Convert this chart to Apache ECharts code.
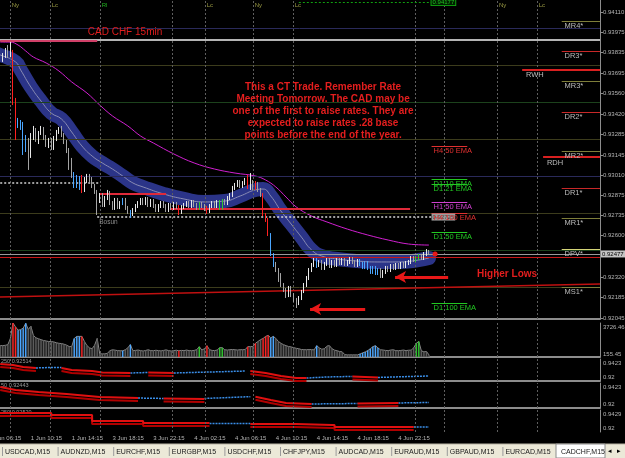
<!DOCTYPE html>
<html>
<head>
<meta charset="utf-8">
<script src="https://cdn.jsdelivr.net/npm/echarts@6/dist/echarts.min.js"></script>
<style>
html, body { margin: 0; padding: 0; background: #000; }
#main { width: 625px; height: 458px; }
</style>
</head>
<body>
<div id="main"></div>
<script>
var FONT = 'Liberation Sans';

// bar index 0 = 1 Jun 06:15, one bar per 15 minutes, a label every 16 bars
var timeLabels = ['1 Jun 06:15', '1 Jun 10:15', '1 Jun 14:15', '3 Jun 18:15', '3 Jun 22:15', '4 Jun 02:15',
    '4 Jun 06:15', '4 Jun 10:15', '4 Jun 14:15', '4 Jun 18:15', '4 Jun 22:15'];
var priceTicks = [0.94110, 0.93975, 0.93835, 0.93695, 0.93560, 0.93420, 0.93285, 0.93145, 0.93010,
    0.92875, 0.92735, 0.92600, 0.92320, 0.92185, 0.92045];
var lastPrice = 0.92477;

// [open, close, low, high]
var bars = [
    [0.93820,0.93806,0.93786,0.93840],[0.93806,0.93827,0.93793,0.93854],[0.93827,0.93800,0.93773,0.93840],
    [0.93800,0.93820,0.93786,0.93833],[0.93820,0.93786,0.93766,0.93840],[0.93786,0.93813,0.93773,0.93833],
    [0.93813,0.93840,0.93800,0.93867],[0.93840,0.93820,0.93800,0.93887],[0.93820,0.93854,0.93806,0.93908],
    [0.93820,0.93516,0.93482,0.93854],[0.93516,0.93381,0.93246,0.93530],[0.93381,0.93341,0.93327,0.93395],
    [0.93341,0.93368,0.93314,0.93381],[0.93347,0.93192,0.93145,0.93368],[0.93192,0.93246,0.93165,0.93280],
    [0.93246,0.93098,0.93044,0.93260],[0.93145,0.93273,0.93125,0.93293],[0.93273,0.93314,0.93246,0.93341],
    [0.93314,0.93246,0.93233,0.93327],[0.93246,0.93293,0.93219,0.93307],[0.93293,0.93320,0.93280,0.93341],
    [0.93320,0.93266,0.93246,0.93334],[0.93266,0.93219,0.93199,0.93280],[0.93219,0.93246,0.93192,0.93260],
    [0.93246,0.93199,0.93179,0.93260],[0.93199,0.93260,0.93179,0.93273],[0.93260,0.93300,0.93239,0.93314],
    [0.93300,0.93327,0.93287,0.93334],[0.93327,0.93280,0.93266,0.93341],[0.93280,0.93233,0.93219,0.93293],
    [0.93233,0.93179,0.93158,0.93246],[0.93179,0.93098,0.93044,0.93192],[0.93098,0.93010,0.92990,0.93125],
    [0.93010,0.92942,0.92922,0.93030],[0.92942,0.92990,0.92922,0.93010],[0.92990,0.92922,0.92909,0.93003],
    [0.92996,0.92895,0.92888,0.93010],[0.92909,0.92976,0.92895,0.92996],[0.92976,0.93003,0.92956,0.93017],
    [0.93003,0.92976,0.92963,0.93017],[0.92976,0.92936,0.92922,0.92996],[0.92936,0.92895,0.92882,0.92949],
    [0.92895,0.92841,0.92740,0.92909],[0.92841,0.92875,0.92821,0.92888],[0.92875,0.92807,0.92794,0.92888],
    [0.92807,0.92855,0.92794,0.92868],[0.92855,0.92888,0.92841,0.92909],[0.92888,0.92821,0.92807,0.92902],
    [0.92821,0.92787,0.92774,0.92834],[0.92787,0.92841,0.92774,0.92855],[0.92841,0.92794,0.92780,0.92855],
    [0.92794,0.92821,0.92780,0.92834],[0.92821,0.92841,0.92807,0.92855],[0.92841,0.92787,0.92774,0.92855],
    [0.92787,0.92760,0.92747,0.92801],[0.92760,0.92740,0.92720,0.92774],[0.92740,0.92774,0.92733,0.92787],
    [0.92774,0.92801,0.92760,0.92814],[0.92801,0.92821,0.92787,0.92834],[0.92821,0.92841,0.92807,0.92855],
    [0.92841,0.92821,0.92807,0.92855],[0.92821,0.92848,0.92807,0.92861],[0.92848,0.92807,0.92794,0.92861],
    [0.92807,0.92834,0.92794,0.92848],[0.92834,0.92801,0.92787,0.92848],[0.92801,0.92774,0.92760,0.92814],
    [0.92774,0.92801,0.92760,0.92814],[0.92801,0.92821,0.92787,0.92834],[0.92821,0.92801,0.92787,0.92834],
    [0.92801,0.92774,0.92760,0.92814],[0.92774,0.92807,0.92760,0.92821],[0.92807,0.92787,0.92774,0.92821],
    [0.92787,0.92814,0.92774,0.92828],[0.92814,0.92794,0.92780,0.92828],[0.92794,0.92753,0.92740,0.92807],
    [0.92753,0.92794,0.92747,0.92807],[0.92794,0.92807,0.92780,0.92821],[0.92807,0.92821,0.92794,0.92834],
    [0.92821,0.92801,0.92787,0.92834],[0.92801,0.92828,0.92787,0.92841],[0.92828,0.92807,0.92794,0.92841],
    [0.92807,0.92787,0.92774,0.92821],[0.92787,0.92814,0.92774,0.92828],[0.92814,0.92801,0.92787,0.92828],
    [0.92801,0.92780,0.92767,0.92814],[0.92780,0.92760,0.92747,0.92801],[0.92760,0.92801,0.92753,0.92814],
    [0.92801,0.92821,0.92787,0.92834],[0.92821,0.92801,0.92787,0.92834],[0.92801,0.92828,0.92787,0.92841],
    [0.92828,0.92787,0.92774,0.92841],[0.92787,0.92834,0.92774,0.92848],[0.92834,0.92821,0.92807,0.92848],
    [0.92821,0.92855,0.92807,0.92868],[0.92855,0.92875,0.92841,0.92888],[0.92875,0.92922,0.92861,0.92936],
    [0.92922,0.92942,0.92909,0.92956],[0.92942,0.92963,0.92929,0.92976],[0.92963,0.92936,0.92922,0.92976],
    [0.92936,0.92956,0.92922,0.92969],[0.92956,0.92976,0.92942,0.92990],[0.92976,0.92922,0.92915,0.93010],
    [0.92922,0.92963,0.92909,0.93023],[0.92963,0.92922,0.92909,0.92976],[0.92922,0.92949,0.92909,0.92969],
    [0.92949,0.92909,0.92895,0.92963],[0.92909,0.92875,0.92861,0.92922],[0.92875,0.92740,0.92733,0.92888],
    [0.92740,0.92706,0.92693,0.92753],[0.92706,0.92605,0.92598,0.92720],[0.92605,0.92470,0.92463,0.92618],
    [0.92470,0.92402,0.92389,0.92483],[0.92402,0.92369,0.92355,0.92423],[0.92369,0.92335,0.92288,0.92382],
    [0.92335,0.92267,0.92254,0.92348],[0.92267,0.92234,0.92220,0.92281],[0.92234,0.92200,0.92180,0.92247],
    [0.92200,0.92247,0.92186,0.92261],[0.92247,0.92200,0.92186,0.92261],[0.92200,0.92166,0.92153,0.92213],
    [0.92166,0.92146,0.92112,0.92180],[0.92146,0.92180,0.92132,0.92193],[0.92180,0.92220,0.92166,0.92234],
    [0.92220,0.92267,0.92213,0.92281],[0.92267,0.92315,0.92254,0.92328],[0.92315,0.92369,0.92301,0.92382],
    [0.92369,0.92402,0.92355,0.92416],[0.92402,0.92436,0.92389,0.92450],[0.92436,0.92402,0.92382,0.92450],
    [0.92402,0.92423,0.92389,0.92436],[0.92423,0.92382,0.92369,0.92436],[0.92382,0.92409,0.92369,0.92423],
    [0.92409,0.92436,0.92396,0.92450],[0.92436,0.92396,0.92382,0.92450],[0.92396,0.92423,0.92382,0.92436],
    [0.92423,0.92402,0.92389,0.92436],[0.92402,0.92436,0.92389,0.92450],[0.92436,0.92416,0.92402,0.92450],
    [0.92416,0.92436,0.92402,0.92450],[0.92436,0.92409,0.92396,0.92450],[0.92409,0.92423,0.92396,0.92436],
    [0.92423,0.92443,0.92409,0.92456],[0.92443,0.92423,0.92409,0.92456],[0.92423,0.92402,0.92389,0.92436],
    [0.92402,0.92429,0.92389,0.92443],[0.92429,0.92409,0.92396,0.92443],[0.92409,0.92389,0.92375,0.92423],
    [0.92389,0.92416,0.92375,0.92429],[0.92416,0.92382,0.92369,0.92429],[0.92382,0.92355,0.92342,0.92396],
    [0.92355,0.92382,0.92342,0.92396],[0.92382,0.92348,0.92335,0.92396],[0.92348,0.92369,0.92335,0.92382],
    [0.92369,0.92328,0.92315,0.92382],[0.92328,0.92355,0.92315,0.92369],[0.92355,0.92382,0.92342,0.92396],
    [0.92382,0.92369,0.92355,0.92396],[0.92369,0.92396,0.92355,0.92409],[0.92396,0.92382,0.92369,0.92409],
    [0.92382,0.92402,0.92369,0.92416],[0.92402,0.92389,0.92375,0.92416],[0.92389,0.92409,0.92375,0.92423],
    [0.92409,0.92396,0.92382,0.92423],[0.92396,0.92416,0.92382,0.92429],[0.92416,0.92423,0.92402,0.92436],
    [0.92423,0.92450,0.92409,0.92463],[0.92450,0.92436,0.92423,0.92463],[0.92436,0.92450,0.92423,0.92463],
    [0.92450,0.92463,0.92436,0.92477],[0.92463,0.92450,0.92436,0.92477],[0.92450,0.92477,0.92436,0.92490],
    [0.92477,0.92490,0.92463,0.92510],[0.92490,0.92477,0.92470,0.92504]
];

// bars the colour-coding indicator marks
var redBars = [9, 10, 36, 74, 85, 101, 104, 107, 108, 109];
var blueBars = [11, 12, 13, 14, 33, 34, 35, 52, 55, 110, 111, 128, 145, 146, 147, 148, 149, 150, 151, 152];
var greenBars = [82, 90, 91, 167, 168];

var volume = [1200,1180,1220,1230,1240,1250,1280,1350,2030,3726,3300,2940,3000,3160,3700,3000,3390,2370,2100,2000,
    1900,1810,1750,1700,1690,1650,1560,1500,1470,1400,1300,1150,1130,2030,2260,2260,2260,1700,1240,1000,
    900,1300,2030,340,340,340,400,700,790,750,700,680,680,790,1000,1360,680,720,760,700,
    650,720,790,700,680,740,700,660,720,780,700,650,700,740,680,720,700,760,700,680,
    720,800,1130,760,900,1240,800,720,700,760,1020,1020,790,760,800,820,790,760,800,790,
    820,1130,1130,1150,1500,1700,1900,2030,2260,2370,2100,2260,2030,1700,1500,1350,1240,1150,1100,1020,
    950,900,820,800,790,820,800,780,1240,1000,850,900,1200,1240,900,750,680,600,560,260,
    230,230,230,230,230,340,450,560,700,900,1130,1240,1000,790,760,720,700,760,790,700,
    680,720,760,700,740,750,1000,1500,1700,680,560,600,230];

// moving-average channel centre and the slower EMA, [bar, price]
var bandMid = [[0,0.93840],[4,0.93820],[10,0.93773],[12,0.93719],[16,0.93604],[20,0.93509],[24,0.93428],
    [28,0.93388],[32,0.93300],[36,0.93206],[40,0.93138],[44,0.93091],[48,0.93050],[52,0.93003],[56,0.92956],
    [60,0.92929],[68,0.92882],[76,0.92848],[84,0.92828],[92,0.92834],[98,0.92868],[104,0.92909],[107,0.92915],
    [110,0.92868],[114,0.92767],[118,0.92679],[122,0.92591],[126,0.92504],[130,0.92463],[136,0.92443],
    [144,0.92429],[152,0.92423],[160,0.92423],[168,0.92436],[172,0.92450]];
var slowEma = [[4,0.93907],[8,0.93907],[11,0.93887],[14,0.93847],[17,0.93806],[22,0.93766],[27,0.93712],
    [32,0.93638],[38,0.93563],[43,0.93482],[48,0.93408],[54,0.93341],[59,0.93273],[64,0.93226],[72,0.93152],
    [80,0.93091],[88,0.93050],[96,0.93023],[104,0.93003],[108,0.92976],[112,0.92929],[116,0.92861],
    [120,0.92794],[126,0.92733],[132,0.92693],[140,0.92645],[148,0.92605],[156,0.92571],[164,0.92544],
    [172,0.92537]];

var roundLevels = [0.9400, 0.9375, 0.9350, 0.9325, 0.9300, 0.9275, 0.9250, 0.9225];
var sessions = [[7.8,'Ny'],[23.5,'Lc'],[43.1,'Rl'],[71.3,''],[84.2,'Lc'],[103,'Ny'],[118.7,'Lc'],
    [166.5,''],[177.9,''],[198.7,'Ny'],[214.3,'Lc']];
var pivots = [['MR4*',0.94049],['DR3*',0.93847],['MR3*',0.93644],['DR2*',0.93435],['MR2*',0.93172],
    ['DR1*',0.92922],['MR1*',0.92720],['DPV*',0.92510],['MS1*',0.92254]];
var rangeHighs = [['RWH',0.93719,208.5],['RDH',0.93131,216.7]];
var emaLevels = [['H4 50 EMA',0.93206],['D1 10 EMA',0.92983],['D1 21 EMA',0.92949],['H1 50 EMA',0.92828],
    ['H4 100 EMA',0.92753],['D1 50 EMA',0.92625],['D1 100 EMA',0.92146]];

// lower indicator windows: trend segments, [bar, value]
var ind1 = [
    ['down', [[4,0.9372],[9,0.9362],[13,0.9342],[18,0.9332]]],
    ['up', [[18,0.9332],[23,0.9337],[28,0.9337]]],
    ['down', [[28,0.9332],[32,0.9312],[40,0.9301],[44,0.9286],[55,0.9281]]],
    ['up', [[55,0.9281],[62,0.9286]]],
    ['down', [[62,0.9286],[72,0.9281]]],
    ['up', [[72,0.9281],[86,0.9291],[100,0.9301]]],
    ['down', [[102,0.9301],[108,0.9281],[114,0.9251],[120,0.9230],[124,0.9230]]],
    ['up', [[124,0.9230],[132,0.9241],[142,0.9246]]],
    ['down', [[142,0.9246],[152,0.9236]]],
    ['up', [[152,0.9236],[172,0.9251]]]
];
var ind2 = [
    ['down', [[4,0.9387],[10,0.9360],[19,0.9343],[30,0.9325],[43,0.9298],[58,0.9289]]],
    ['up', [[58,0.9289],[68,0.9285]]],
    ['down', [[68,0.9285],[84,0.9280]]],
    ['up', [[84,0.9285],[102,0.9301]]],
    ['down', [[104,0.9300],[110,0.9271],[116,0.9245],[126,0.9236]]],
    ['up', [[126,0.9236],[144,0.9240]]],
    ['down', [[144,0.9240],[160,0.9244]]],
    ['up', [[160,0.9245],[172,0.9249]]]
];
var ind3 = [
    ['down', [[0,0.9398],[23,0.9398],[24,0.9377],[39,0.9377],[40,0.9315],[59,0.9315],[60,0.9294],[86,0.9294]]],
    ['up', [[86,0.9289],[102,0.9289]]],
    ['down', [[102,0.9283],[119,0.9283],[120,0.9273],[134,0.9273],[135,0.9252],[166,0.9252]]],
    ['up', [[166,0.9252],[172,0.9252]]]
];
var tabs = ['USDCAD,M15','AUDNZD,M15','EURCHF,M15','EURGBP,M15','USDCHF,M15','CHFJPY,M15',
    'AUDCAD,M15','EURAUD,M15','GBPAUD,M15','EURCAD,M15','CADCHF,M15'];

var ranges = [[0.92038, 0.94191], [0, 3726.46], [0.92, 0.9423], [0.92, 0.9423], [0.92, 0.9429]];

function barColor(i) {
    if (redBars.indexOf(i) >= 0) return '#ff2020';
    if (blueBars.indexOf(i) >= 0) return '#4aa6ff';
    if (greenBars.indexOf(i) >= 0) return '#30c830';
    return null;
}

function seg(i0, i1, p, color, width, type) {
    return [{coord: [i0, p], lineStyle: {color: color, width: width || 1, type: type || 'solid'}}, {coord: [i1, p]}];
}

function txt(i, p, text, color, size, extra) {
    var label = {show: true, formatter: text, color: color, fontSize: size, fontFamily: FONT,
        position: [0, 1], align: 'left', verticalAlign: 'top'};
    for (var k in extra) label[k] = extra[k];
    return {coord: [i, p], symbol: 'rect', symbolSize: 1, itemStyle: {color: 'rgba(0,0,0,0)'}, label: label};
}

function sessionLines(k) {
    var r = ranges[k];
    return {silent: true, symbol: ['none', 'none'], label: {show: false},
        lineStyle: {color: '#5e5e5e', type: [2, 2], width: 1},
        data: sessions.map(function (s) { return [{coord: [s[0], r[0]]}, {coord: [s[0], r[1]]}]; })};
}

var chart = echarts.init(document.getElementById('main'));

var roundColor = function (p) {
    var r = Math.round(p * 10000) % 100;
    if (r === 0) return '#2a2a5a';
    if (r === 50) return '#1c421c';
    return '#3c3c1c';
};

var levelLines = roundLevels.map(function (p) { return seg(0, 239, p, roundColor(p), 1); });
levelLines.push(seg(0, 239, 0.93921, '#b4b4b4', 2));

var overlay = [
    seg(4, 42, 0.93914, '#d04068', 2),
    seg(43, 69, 0.92882, '#e02a3a', 2),
    seg(70.5, 164.6, 0.92780, '#e02a3a', 2),
    seg(4, 43, 0.92956, '#d0d0d0', 1.5, [2, 2]),
    [{coord: [0, 0.92185], lineStyle: {color: '#c01010', width: 1.5, type: 'solid'}}, {coord: [239, 0.92274]}],
    seg(0, 239, 0.92456, '#c81818', 1),
    [{coord: [0, lastPrice], lineStyle: {color: '#9a9a9a', width: 1, type: 'solid'},
        label: {show: true, position: 'end', distance: 1, formatter: '0.92477', backgroundColor: '#c4c4c4',
            color: '#000', fontSize: 6, fontFamily: FONT, padding: [1, 2, 0, 1]}}, {coord: [239, lastPrice]}]
];
var dotted = [
    [{coord: [42, 0.92726], lineStyle: {color: '#d8d8d8', width: 1.5, type: [2, 2]},
        label: {show: true, position: 'end', distance: 0, formatter: '0.92725', backgroundColor: '#9c9c9c',
            color: '#444', fontSize: 6, fontFamily: FONT, padding: [1, 1, 0, 1]}}, {coord: [173, 0.92726]}],
    [{coord: [121, 0.94177], lineStyle: {color: '#10a010', width: 1, type: [2, 2]},
        label: {show: true, position: 'end', distance: 0, formatter: '0.94177', backgroundColor: '#002000',
            borderColor: '#10a010', borderWidth: 1, color: '#20c020', fontSize: 6, fontFamily: FONT,
            padding: [0, 1, 0, 1]}}, {coord: [173, 0.94177]}]
];
pivots.forEach(function (p) {
    var c = p[0].indexOf('DR') === 0 ? '#c82828' : (p[0] === 'DPV*' ? '#d4d478' : '#7e7e3a');
    overlay.push(seg(224, 239, p[1], c, 1));
});
rangeHighs.forEach(function (r) { overlay.push(seg(r[2], 239, r[1], '#d82020', 2)); });
var emaColor = function (name) {
    if (name.indexOf('D1') === 0) return '#22c822';
    if (name.indexOf('H1') === 0) return '#d040d0';
    return '#e03030';
};
emaLevels.forEach(function (e) { overlay.push(seg(173, 187, e[1], emaColor(e[0]), 1)); });

var texts = [
    txt(52.9, 0.93975, 'CAD CHF 15min', '#e41e1e', 10, {position: 'inside', align: 'center', verticalAlign: 'middle'}),
    txt(130.5, 0.93442, 'This a CT Trade. Remember Rate\nMeeting Tomorrow. The CAD may be\none of the first to raise rates. They are\nexpected to raise rates .28 base\npoints before the end of the year.',
        '#e41e1e', 10, {position: 'inside', align: 'center', verticalAlign: 'middle', fontWeight: 'bold', lineHeight: 12}),
    txt(202.6, 0.92342, 'Higher Lows', '#e41e1e', 10, {position: 'inside', align: 'center', verticalAlign: 'middle', fontWeight: 'bold'}),
    txt(43, 0.92726, 'Bosun', '#8c8c8c', 6.5, {position: [0, 2]})
];
sessions.forEach(function (s) {
    if (s[1]) texts.push(txt(s[0] + 0.5, 0.94150, s[1], s[1] === 'Rl' ? '#20b020' : '#9c9c44', 6,
        {verticalAlign: 'middle', position: [1, 0]}));
});
pivots.forEach(function (p) { texts.push(txt(225.3, p[1], p[0], '#bcbcbc', 7.5, {position: [0, 1]})); });
rangeHighs.forEach(function (r) { texts.push(txt(r[2] + 1.7, r[1], r[0], '#bcbcbc', 7.5, {position: [0, 2]})); });
emaLevels.forEach(function (e) { texts.push(txt(174, e[1], e[0], emaColor(e[0]), 7.5, {position: [0, 1]})); });

var series = [
    {type: 'line', xAxisIndex: 0, yAxisIndex: 0, data: [], z: 1,
        markLine: {silent: true, symbol: ['none', 'none'], label: {show: false}, data: levelLines}},
    {type: 'line', xAxisIndex: 0, yAxisIndex: 0, data: [], z: 1, markLine: sessionLines(0)},
    {type: 'line', xAxisIndex: 0, yAxisIndex: 0, data: bandMid, smooth: 0.5, symbol: 'none', z: 2,
        lineStyle: {color: '#2b3488', width: 14, cap: 'round', join: 'round'}},
    {type: 'line', xAxisIndex: 0, yAxisIndex: 0, data: bandMid, smooth: 0.5, symbol: 'none', z: 3,
        lineStyle: {color: '#8a8cb4', width: 1}},
    {type: 'line', xAxisIndex: 0, yAxisIndex: 0, data: slowEma, smooth: 0.4, symbol: 'none', z: 3,
        lineStyle: {color: '#d020d0', width: 1}},
    {type: 'candlestick', xAxisIndex: 0, yAxisIndex: 0, z: 5, barWidth: 1.2,
        encode: {x: 0, y: [1, 2, 3, 4]},
        itemStyle: {color: '#e8e8e8', color0: '#a4a4a4', borderColor: '#e8e8e8', borderColor0: '#a4a4a4', borderWidth: 1},
        data: bars.map(function (b, i) {
            var c = barColor(i);
            var item = {value: [i, b[0], b[1], b[2], b[3]]};
            if (c) item.itemStyle = {color: c, color0: c, borderColor: c, borderColor0: c};
            return item;
        })},
    {type: 'line', xAxisIndex: 0, yAxisIndex: 0, data: [], z: 6,
        markLine: {silent: true, symbol: ['none', 'none'], label: {show: false}, data: overlay.concat(dotted)}},
    {type: 'line', xAxisIndex: 0, yAxisIndex: 0, data: [], z: 7,
        markLine: {silent: true, symbol: ['none', 'arrow'], symbolSize: [9, 11], label: {show: false},
            lineStyle: {color: '#e81818', width: 3, type: 'solid'},
            data: [[{coord: [179.5, 0.92321]}, {coord: [158.7, 0.92321]}],
                [{coord: [147, 0.92105]}, {coord: [125.4, 0.92105]}]]},
        markPoint: {silent: true, data: [{coord: [174.4, lastPrice], symbol: 'circle', symbolSize: 5,
            itemStyle: {color: '#e81818'}, label: {show: false}}]}},
    {type: 'line', xAxisIndex: 0, yAxisIndex: 0, data: [], z: 8, markPoint: {silent: true, data: texts}},

    {type: 'line', xAxisIndex: 1, yAxisIndex: 1, data: volume.map(function (v, i) { return [i, v]; }),
        symbol: 'none', z: 3, lineStyle: {color: '#8a8a8a', width: 1}, areaStyle: {color: '#262626'},
        markLine: sessionLines(1)},
    {type: 'bar', xAxisIndex: 1, yAxisIndex: 1, barWidth: 1.4, z: 4,
        data: volume.map(function (v, i) {
            return {value: [i, v], itemStyle: {color: barColor(i) || '#5c5c5c'}};
        })}
];

[ind1, ind2, ind3].forEach(function (ind, k) {
    var ax = k + 2;
    series.push({type: 'line', xAxisIndex: ax, yAxisIndex: ax, data: [], markLine: sessionLines(ax)});
    ind.forEach(function (s) {
        var down = s[0] === 'down';
        series.push({type: 'line', xAxisIndex: ax, yAxisIndex: ax, data: s[1], symbol: 'none',
            step: k === 2 ? 'end' : false, z: down ? 4 : 3,
            lineStyle: down ? {color: '#e01010', width: 2, shadowColor: '#b00000', shadowOffsetY: 3, shadowBlur: 0}
                : {color: '#3a8ee8', width: 1.5, type: [2, 1]}});
    });
});

var grids = [
    {left: -10, right: 25, top: 0, height: 319, outerBoundsMode: 'none'},
    {left: -10, right: 25, top: 323, height: 34, outerBoundsMode: 'none'},
    {left: -10, right: 25, top: 359, height: 22, outerBoundsMode: 'none'},
    {left: -10, right: 25, top: 383, height: 25, outerBoundsMode: 'none'},
    {left: -10, right: 25, top: 410, height: 22, outerBoundsMode: 'none'}
];
var xAxes = grids.map(function (g, k) {
    return {type: 'value', gridIndex: k, min: 0, max: 239, interval: 16,
        axisLine: {show: k < 4, onZero: false, lineStyle: {color: '#8c8c8c', width: 2}},
        axisTick: {show: false}, splitLine: {show: false},
        axisLabel: {show: k === 4, align: 'left', margin: 3, color: '#b4b4b4', fontSize: 6, fontFamily: FONT,
            formatter: function (v) { return timeLabels[v / 16] || ''; }}};
});

function subAxis(k, vals, fmt, padTop, padBot) {
    var min = ranges[k][0], max = ranges[k][1];
    return {type: 'value', gridIndex: k, position: 'right', min: min, max: max,
        axisLine: {show: true, onZero: false, lineStyle: {color: '#8c8c8c'}},
        axisTick: {show: false}, splitLine: {show: false},
        axisLabel: {customValues: vals, margin: 3,
            formatter: function (v) { return (v === max ? '{t|' : '{b|') + fmt(v) + '}'; },
            rich: {t: {fontSize: 6, color: '#b4b4b4', fontFamily: FONT, padding: [padTop, 0, 0, 0]},
                b: {fontSize: 6, color: '#b4b4b4', fontFamily: FONT, padding: [0, 0, padBot, 0]}}}};
}

var yAxes = [
    {type: 'value', gridIndex: 0, position: 'right', min: ranges[0][0], max: ranges[0][1],
        axisLine: {show: true, onZero: false, lineStyle: {color: '#8c8c8c'}},
        axisTick: {show: true, length: 3, customValues: priceTicks, lineStyle: {color: '#8c8c8c'}},
        splitLine: {show: false},
        axisLabel: {customValues: priceTicks, margin: 3, color: '#b4b4b4', fontSize: 6, fontFamily: FONT,
            formatter: function (v) { return v.toFixed(5); }}},
    subAxis(1, [0, 155.45, 3726.46], function (v) { return v.toFixed(2); }, 9, 3),
    subAxis(2, [0.92, 0.9423], function (v) { return String(v); }, 9, 7),
    subAxis(3, [0.92, 0.9423], function (v) { return String(v); }, 9, 7),
    subAxis(4, [0.92, 0.9429], function (v) { return String(v); }, 9, 7)
];

var graphics = [
    {type: 'text', left: 1, top: 358, style: {text: '250 0.92514', fill: '#9a9a9a', font: '5.5px ' + FONT}},
    {type: 'text', left: 1, top: 382, style: {text: '50 0.92443', fill: '#9a9a9a', font: '5.5px ' + FONT}},
    {type: 'text', left: 1, top: 409, style: {text: '250 0.92520', fill: '#9a9a9a', font: '5.5px ' + FONT}},
    {type: 'rect', shape: {x: 0, y: 444, width: 625, height: 14}, style: {fill: '#ece9d8'}},
    {type: 'line', shape: {x1: 0, y1: 444, x2: 625, y2: 444}, style: {stroke: '#b8b4a4', lineWidth: 1}},
    {type: 'rect', shape: {x: 556, y: 444, width: 49, height: 14}, style: {fill: '#ffffff', stroke: '#8c8c8c', lineWidth: 1}},
    {type: 'text', x: 608, y: 451, style: {text: '\u25C2', fill: '#000', font: '7px ' + FONT, textVerticalAlign: 'middle'}},
    {type: 'text', x: 617, y: 451, style: {text: '\u25B8', fill: '#000', font: '7px ' + FONT, textVerticalAlign: 'middle'}}
];
tabs.forEach(function (t, k) {
    graphics.push({type: 'text', x: 5 + 55.6 * k, y: 452,
        style: {text: t, fill: '#202020', font: '7px ' + FONT, textVerticalAlign: 'middle'}});
    if (k < tabs.length - 1) {
        var sx = 2.5 + 55.6 * k;
        graphics.push({type: 'line', shape: {x1: sx, y1: 447, x2: sx, y2: 456}, style: {stroke: '#9a9a9a', lineWidth: 1}});
    }
});

chart.setOption({
    backgroundColor: '#000',
    animation: false,
    grid: grids,
    xAxis: xAxes,
    yAxis: yAxes,
    series: series,
    graphic: graphics
});
</script>
</body>
</html>
